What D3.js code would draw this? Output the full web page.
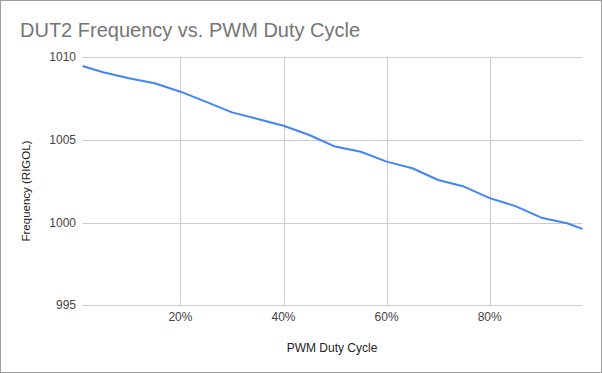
<!DOCTYPE html>
<html>
<head>
<meta charset="utf-8">
<script src="https://cdn.jsdelivr.net/npm/d3@7"></script>
<style>
  body { margin: 0; background: #fff; }
  text { font-family: "Liberation Sans", Arial, sans-serif; }
</style>
</head>
<body>
<div id="container"></div>
<script>
let w = 602;
let h = 373;

// data
let duty = [0.01, 0.05, 0.10, 0.15, 0.20, 0.25, 0.30, 0.35, 0.40, 0.45, 0.50,
            0.55, 0.60, 0.65, 0.70, 0.75, 0.80, 0.85, 0.90, 0.95, 0.98];
let freq = [1009.47, 1009.1, 1008.73, 1008.43, 1007.92, 1007.3, 1006.67, 1006.27, 1005.86, 1005.3, 1004.6,
            1004.29, 1003.69, 1003.29, 1002.58, 1002.18, 1001.48, 1001.0, 1000.3, 999.96, 999.62];
let yTicks = [995, 1000, 1005, 1010];
let xTicks = [0.2, 0.4, 0.6, 0.8];

let viz = d3.select("#container").append("svg")
    .attr("width", w)
    .attr("height", h);

viz.append("rect")
    .attr("x", 0.5).attr("y", 0.5)
    .attr("width", w - 1).attr("height", h - 1)
    .attr("fill", "white")
    .attr("stroke", "#9e9e9e");

let xScale = d3.scaleLinear().domain([0.01, 0.98]).range([82.5, 582.5]);
let yScale = d3.scaleLinear().domain([995, 1010]).range([305.3, 57.3]);

// gridlines
viz.append("g").selectAll("line").data(yTicks).enter()
  .append("line")
    .attr("x1", xScale.range()[0]).attr("x2", xScale.range()[1])
    .attr("y1", d => Math.round(yScale(d)) + 0.5)
    .attr("y2", d => Math.round(yScale(d)) + 0.5)
    .attr("stroke", "#cccccc");

viz.append("g").selectAll("line").data(xTicks).enter()
  .append("line")
    .attr("x1", d => Math.round(xScale(d)) + 0.5)
    .attr("x2", d => Math.round(xScale(d)) + 0.5)
    .attr("y1", yScale.range()[1]).attr("y2", yScale.range()[0])
    .attr("stroke", "#cccccc");

// tick labels
viz.append("g").selectAll("text").data(yTicks).enter()
  .append("text")
    .attr("x", 76)
    .attr("y", d => yScale(d) + 4)
    .attr("text-anchor", "end")
    .attr("font-size", 12)
    .attr("fill", "#444")
    .text(d => d);

viz.append("g").selectAll("text").data(xTicks).enter()
  .append("text")
    .attr("x", d => xScale(d))
    .attr("y", 321)
    .attr("text-anchor", "middle")
    .attr("font-size", 12)
    .attr("fill", "#444")
    .text(d3.format(".0%"));

// line
let lineMaker = d3.line()
    .x((d, i) => xScale(duty[i]))
    .y(d => yScale(d));

viz.append("path")
    .datum(freq)
    .attr("d", lineMaker)
    .attr("fill", "none")
    .attr("stroke", "#4285f4")
    .attr("stroke-width", 2)
    .attr("stroke-linejoin", "round");

// titles
viz.append("text")
    .attr("x", 20).attr("y", 37)
    .attr("font-size", 20)
    .attr("fill", "#757575")
    .text("DUT2 Frequency vs. PWM Duty Cycle");

viz.append("text")
    .attr("x", 332).attr("y", 352)
    .attr("text-anchor", "middle")
    .attr("font-size", 12)
    .attr("fill", "#222")
    .text("PWM Duty Cycle");

viz.append("text")
    .attr("transform", "translate(30,191) rotate(-90)")
    .attr("text-anchor", "middle")
    .attr("font-size", 11.5)
    .attr("fill", "#222")
    .text("Frequency (RIGOL)");
</script>
</body>
</html>
